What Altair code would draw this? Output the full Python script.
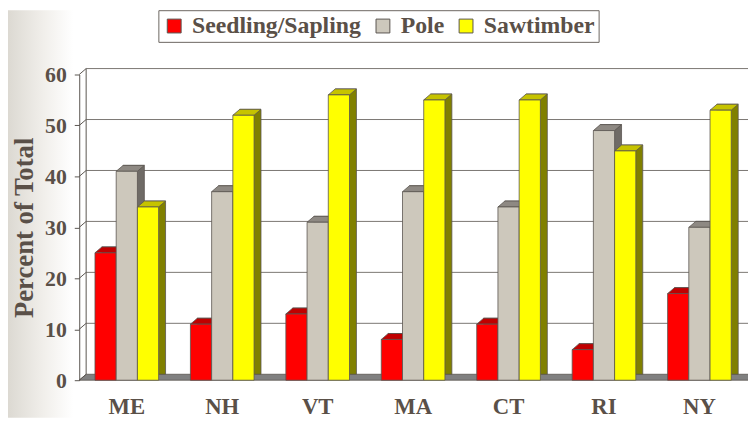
import altair as alt
import pandas as pd

# ---- data ----
states = ["ME", "NH", "VT", "MA", "CT", "RI", "NY"]
classes = ["Seedling/Sapling", "Pole", "Sawtimber"]
seedling = [25, 11, 13, 8, 11, 6, 17]
pole = [41, 37, 31, 37, 34, 49, 30]
sawtimber = [34, 52, 56, 55, 55, 45, 53]
y_ticks = [0, 10, 20, 30, 40, 50, 60]

# ---- styles ----
front_colors = ["#ff0000", "#cdc8bc", "#ffff00"]
top_colors = ["#c00000", "#8e8983", "#c6c300"]
side_colors = ["#800000", "#6f6b66", "#808000"]
EDGE = "#5a5550"
GRID = "#7a7672"
TEXT = "#5a5048"
FONT = "Liberation Serif"

W, H = 675, 309
PAD_L, PAD_T, PAD_R, PAD_B = 72, 65, 1, 38
PI, PO = 0.333, 0.165
STEP = W / (len(states) - PI + 2 * PO)
BW = STEP * (1 - PI)
SUB = BW / 3
D, DY = 7, 6

rows = []
for i, s in enumerate(states):
    for c, vals in zip(classes, [seedling, pole, sawtimber]):
        rows.append({"state": s, "cls": c, "pct": vals[i]})
df = pd.DataFrame(rows)
ticks_df = pd.DataFrame({"v": y_ticks})
one = pd.DataFrame({"a": [0]})

y_scale = alt.Scale(domain=[0, 60], nice=False, zero=True)

x_enc = alt.X(
    "state:N", sort=states,
    scale=alt.Scale(paddingInner=PI, paddingOuter=PO),
    axis=alt.Axis(title=None, domain=False, ticks=False, labelAngle=0,
                  labelFont=FONT, labelFontWeight="bold", labelFontSize=23,
                  labelColor=TEXT, labelPadding=16, zindex=1),
)
y_enc = alt.Y(
    "pct:Q", scale=y_scale,
    axis=alt.Axis(title="Percent of Total", values=y_ticks, grid=False,
                  domainColor=EDGE, domainWidth=1, tickColor=EDGE, tickSize=5,
                  labelFont=FONT, labelFontWeight="bold", labelFontSize=22,
                  labelColor=TEXT, labelPadding=8,
                  titleFont=FONT, titleFontWeight="bold", titleFontSize=27,
                  titleColor=TEXT, titleAngle=270, titleX=-47, titleY=H / 2,
                  titleBaseline="alphabetic", zindex=1),
)

# left background shading
bg = alt.Chart(one).mark_rect(
    fill=alt.Gradient(gradient="linear",
                      stops=[alt.GradientStop(color="#dcd9d2", offset=0),
                             alt.GradientStop(color="#f1efeb", offset=0.55),
                             alt.GradientStop(color="#ffffff", offset=1)],
                      x1=0, x2=1, y1=0, y2=0)
).encode(x=alt.value(-PAD_L), x2=alt.value(-6),
         y=alt.value(-PAD_T), y2=alt.value(H + PAD_B))

# floor
floor_path = f"M0,0L{W + 20},0L{W + 20 + D},-{DY}L{D},-{DY}Z"
floor = alt.Chart(one).mark_point(
    shape=floor_path, size=4, filled=True, fill="#808080", stroke=EDGE,
    strokeWidth=0.8, opacity=1
).encode(x=alt.value(0), y=alt.datum(0, scale=y_scale))

# back wall gridlines
grid = alt.Chart(ticks_df[ticks_df.v > 0]).mark_rule(
    color=GRID, strokeWidth=1, yOffset=-DY
).encode(y=alt.Y("v:Q", scale=y_scale), x=alt.value(D), x2=alt.value(W + 10))

# left wall diagonals
diag = alt.Chart(ticks_df).mark_point(
    shape=f"M0,0L{D},-{DY}", size=4, filled=False, stroke=EDGE,
    strokeWidth=1, opacity=1
).encode(x=alt.value(0), y=alt.Y("v:Q", scale=y_scale))

# back wall left edge
back_edge = alt.Chart(one).mark_rule(
    color=EDGE, strokeWidth=1, yOffset=-DY, y2Offset=-DY
).encode(x=alt.value(D), y=alt.datum(0, scale=y_scale), y2=alt.datum(60))

base = alt.Chart(df).encode(x=x_enc, y=y_enc)

sides = base.mark_bar(
    yOffset=-DY, y2Offset=-DY, stroke=EDGE, strokeWidth=0.8
).encode(
    xOffset=alt.XOffset("cls:N", sort=classes,
                        scale=alt.Scale(range=[D, BW + D])),
    color=alt.Color("cls:N", sort=classes,
                    scale=alt.Scale(domain=classes, range=side_colors),
                    legend=None),
)

h = SUB / 2
top_path = f"M{-h:.2f},0L{h:.2f},0L{h + D:.2f},-{DY}L{-h + D:.2f},-{DY}Z"
tops = base.mark_point(
    shape=top_path, size=4, filled=True, opacity=1, stroke=EDGE,
    strokeWidth=0.8
).encode(
    xOffset=alt.XOffset("cls:N", sort=classes),
    fill=alt.Fill("cls:N", sort=classes,
                  scale=alt.Scale(domain=classes, range=top_colors),
                  legend=None),
)

fronts = base.mark_bar(stroke=EDGE, strokeWidth=0.8).encode(
    xOffset=alt.XOffset("cls:N", sort=classes),
    color=alt.Color(
        "cls:N", sort=classes,
        scale=alt.Scale(domain=classes, range=front_colors),
        legend=alt.Legend(
            title=None, orient="none", direction="horizontal",
            legendX=80, legendY=-65,
            labelFont=FONT, labelFontWeight="bold", labelFontSize=24,
            labelColor=TEXT, labelOffset=6, columnPadding=10, labelLimit=0,
            symbolType="square", symbolSize=196, symbolStrokeColor=EDGE,
            symbolStrokeWidth=1, symbolOpacity=1,
            strokeColor="#6b6560", fillColor="#ffffff", padding=4,
        ),
    ),
)

chart = alt.layer(
    bg, floor, grid, diag, back_edge, sides, tops, fronts
).resolve_scale(
    color="independent", fill="independent", xOffset="independent"
).properties(
    width=W, height=H,
    autosize=alt.AutoSizeParams(type="none"),
    padding={"left": PAD_L, "top": PAD_T, "right": PAD_R, "bottom": PAD_B},
    background="#ffffff",
).configure_view(stroke=None)

chart.save("out.html", embed_options={"renderer": "svg", "actions": False})
